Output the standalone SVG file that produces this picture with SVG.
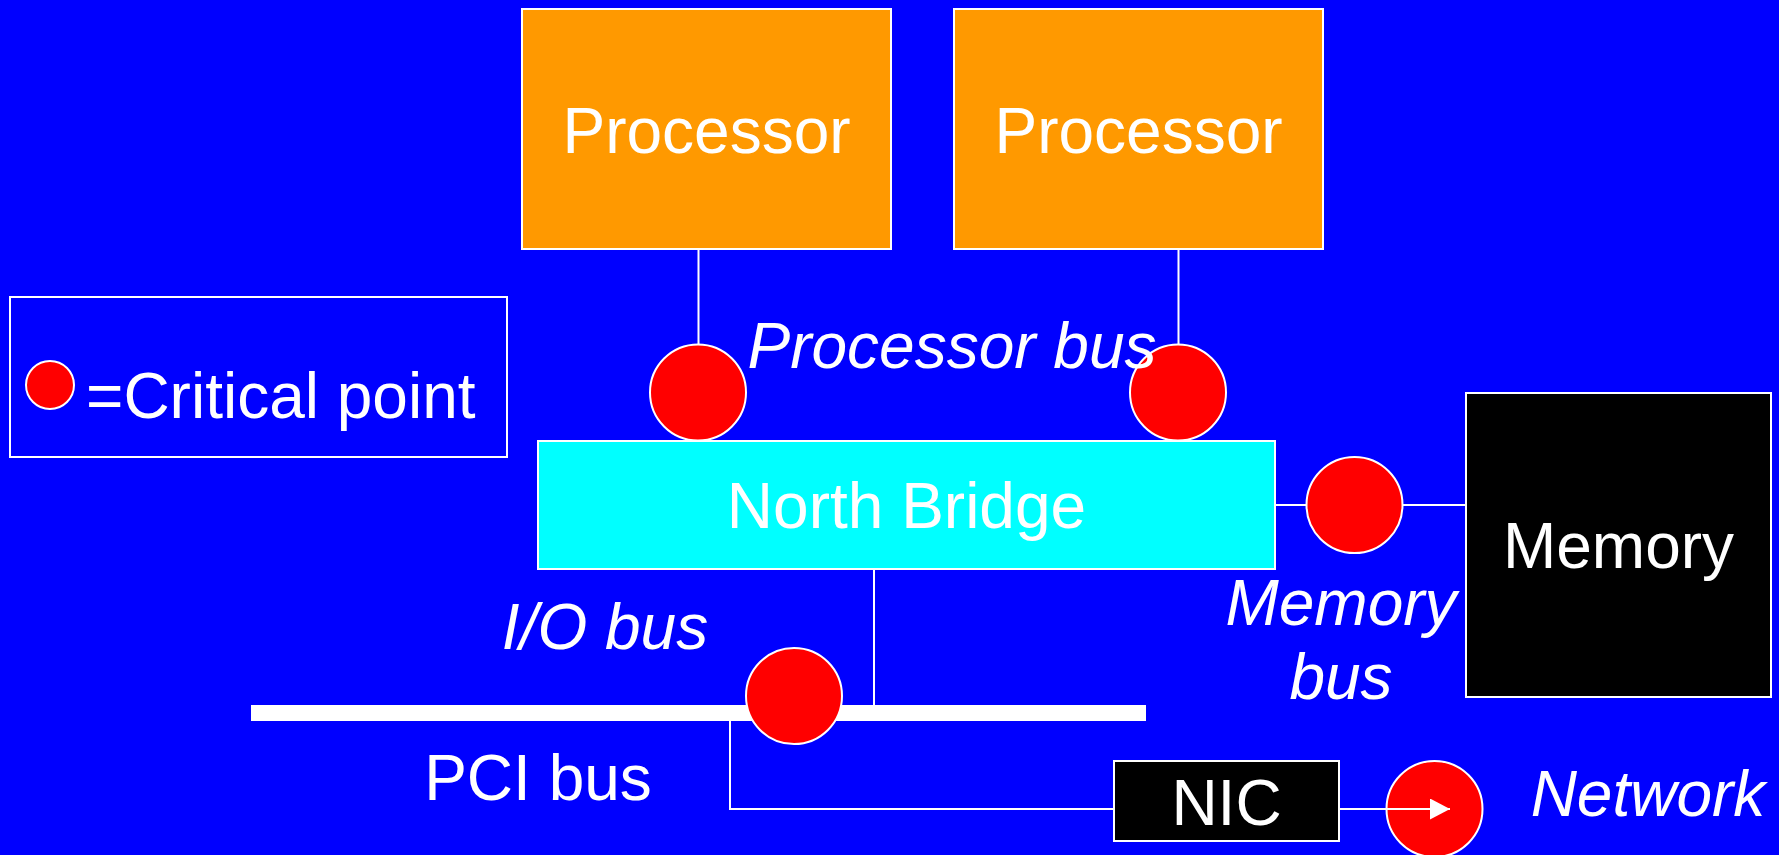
<svg xmlns="http://www.w3.org/2000/svg" width="1779" height="855" viewBox="0 0 1779 855">
<defs>
<style>
.box{stroke:#fff;stroke-width:2}
.cp{fill:#f00;stroke:#fff;stroke-width:2}
.ln{stroke:#fff;stroke-width:2;fill:none}
.t{font-family:"Liberation Sans",Arial,sans-serif;font-size:64px;fill:#fff;text-anchor:middle}
.i{font-style:italic}
</style>
<marker id="arr" markerWidth="20" markerHeight="21" refX="20" refY="10.5" orient="auto" markerUnits="userSpaceOnUse" viewBox="0 0 20 21">
<path d="M0,0 L20,10.5 L0,21 z" fill="#fff"/>
</marker>
</defs>
<rect width="1779" height="855" fill="#0000ff"/>
<g id="legend">
<rect x="10" y="297" width="497" height="160" fill="none" class="box"/>
<circle cx="50" cy="385" r="24" class="cp"/>
<text x="86" y="418" class="t" style="text-anchor:start">=Critical point</text>
</g>
<g id="processor1">
<rect x="522" y="9" width="369" height="240" fill="#ff9900" class="box"/>
<text x="706.5" y="153" class="t">Processor</text>
</g>
<g id="processor2">
<rect x="954" y="9" width="369" height="240" fill="#ff9900" class="box"/>
<text x="1138.5" y="153" class="t">Processor</text>
</g>
<g id="northbridge">
<rect x="538" y="441" width="737" height="128" fill="#00ffff" class="box"/>
<text x="906.5" y="528" class="t">North Bridge</text>
</g>
<g id="memory">
<rect x="1466" y="393" width="305" height="304" fill="#000" class="box"/>
<text x="1618.5" y="568" class="t">Memory</text>
</g>
<g id="nic">
<rect x="1114" y="761" width="225" height="80" fill="#000" class="box"/>
<text x="1226.5" y="825" class="t">NIC</text>
</g>
<g id="pcibus">
<rect x="251" y="705" width="895" height="16" fill="#fff"/>
<text x="538" y="800" class="t">PCI bus</text>
</g>
<g id="critical-points">
<circle cx="698" cy="392.5" r="48" class="cp"/>
<circle cx="1178" cy="392.5" r="48" class="cp"/>
<circle cx="1354.5" cy="505" r="48" class="cp"/>
<circle cx="794" cy="696" r="48" class="cp"/>
<circle cx="1434.5" cy="809" r="48" class="cp"/>
</g>
<g id="connectors">
<line x1="698.5" y1="249" x2="698.5" y2="345" class="ln"/>
<line x1="1178.5" y1="249" x2="1178.5" y2="345" class="ln"/>
<line x1="1275" y1="505" x2="1306" y2="505" class="ln"/>
<line x1="1403" y1="505" x2="1466" y2="505" class="ln"/>
<line x1="874" y1="569" x2="874" y2="705" class="ln"/>
<polyline points="730,721 730,809 1114,809" class="ln"/>
<line x1="1339" y1="809" x2="1450" y2="809" class="ln" marker-end="url(#arr)"/>
</g>
<g id="labels">
<text x="952" y="368" class="t i">Processor bus</text>
<text x="605" y="649" class="t i">I/O bus</text>
<text x="1341" y="625" class="t i">Memory</text>
<text x="1341" y="699" class="t i">bus</text>
<text x="1648" y="816" class="t i">Network</text>
</g>
</svg>
